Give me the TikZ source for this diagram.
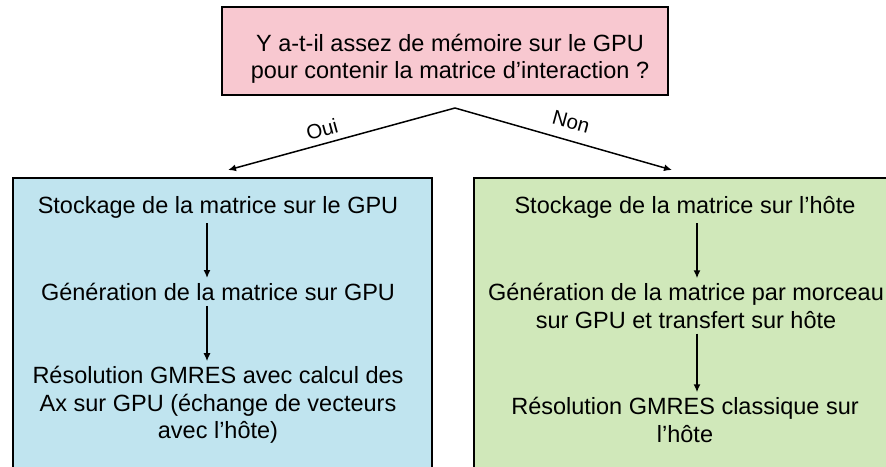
\documentclass[tikz,border=0pt]{standalone}
\usepackage{fontspec}
\setmainfont{Liberation Sans}
\usetikzlibrary{arrows.meta}
\definecolor{pinkc}{RGB}{248,200,208}
\definecolor{bluec}{RGB}{192,228,239}
\definecolor{greenc}{RGB}{208,232,186}
\tikzset{
  box/.style={draw=black, line width=1.6pt, rectangle, inner sep=0pt},
  txt/.style={align=center, inner sep=5pt, font=\fontsize{23.5}{27.5}\selectfont},
  lab/.style={inner sep=1pt, font=\fontsize{20.5}{23}\selectfont},
  arr/.style={draw=black, line width=1.5pt, -{Latex[length=8pt,width=7pt]}},
}
\begin{document}
\begin{tikzpicture}[x=1pt,y=-1pt]
\useasboundingbox (0,0) rectangle (886,466);
\clip (0,0) rectangle (886,466);
\fill[white] (0,0) rectangle (886,466);
% top question box
\node[box, fill=pinkc, minimum width=446pt, minimum height=88pt] (q) at (445,51) {};
\node[txt] (qt) at (450,59) {Y a-t-il assez de mémoire sur le GPU\\pour contenir la matrice d’interaction ?};
% branch boxes
\node[box, fill=bluec, minimum width=419pt, minimum height=310pt, anchor=north west] (lbox) at (12,177) {};
\node[box, fill=greenc, minimum width=440pt, minimum height=310pt, anchor=north west] (rbox) at (473,177) {};
% branch arrows
\coordinate (apex) at (455,108);
\coordinate (lend) at (228,170);
\coordinate (rend) at (672,170);
\draw[arr] (apex) -- (lend);
\draw[arr] (apex) -- (rend);
\node[lab, rotate=15.3] (oui) at (322,129) {Oui};
\node[lab, rotate=-15.3] (non) at (571,122) {Non};
% left column
\node[txt] (l1) at (218,207) {Stockage de la matrice sur le GPU};
\node[txt] (l2) at (218,292) {Génération de la matrice sur GPU};
\node[txt] (l3) at (218,405) {Résolution GMRES avec calcul des\\Ax sur GPU (échange de vecteurs\\avec l’hôte)};
\draw[arr] ([xshift=-11pt]l1.south) -- ([xshift=-11pt]l1.south |- l2.north);
\draw[arr] ([xshift=-11pt]l2.south) -- ([xshift=-11pt]l2.south |- l3.north);
% right column
\node[txt] (r1) at (685,207) {Stockage de la matrice sur l’hôte};
\node[txt] (r2) at (686,306) {Génération de la matrice par morceau\\sur GPU et transfert sur hôte};
\node[txt] (r3) at (685,420) {Résolution GMRES classique sur\\l’hôte};
\draw[arr] (r1.south -| 697,0) -- (r2.north -| 697,0);
\draw[arr] (r2.south -| 697,0) -- (r3.north -| 697,0);
\end{tikzpicture}
\end{document}
